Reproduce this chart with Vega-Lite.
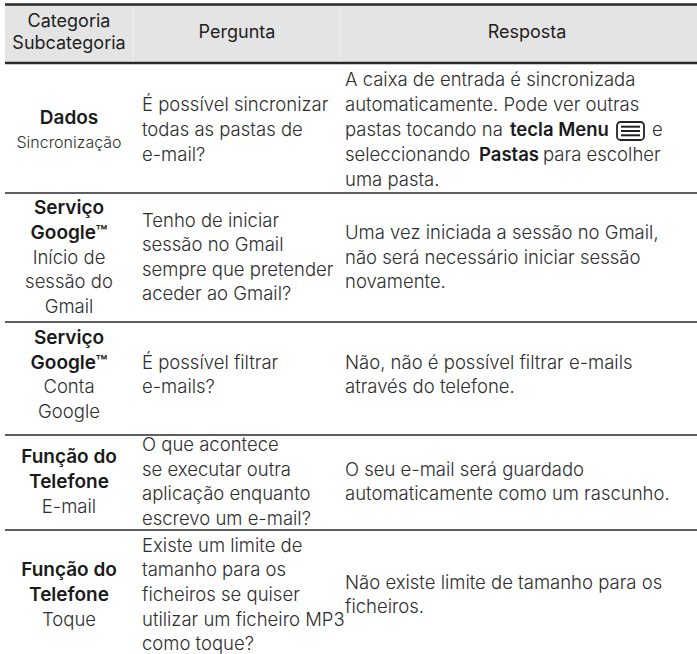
{
  "$schema": "https://vega.github.io/schema/vega-lite/v6.json",
  "width": 697,
  "height": 654,
  "padding": 0,
  "autosize": "none",
  "background": "white",
  "config": {"view": {"stroke": null}},
  "datasets": {
    "band": [{"x": 5, "x2": 697, "y": 4, "y2": 63}],
    "borders": [
      {"x": 5, "x2": 697, "y": 4.5},
      {"x": 5, "x2": 697, "y": 63}
    ],
    "dividers": [
      {"x": 133, "y": 5, "y2": 62},
      {"x": 340, "y": 5, "y2": 62}
    ],
    "separators": [
      {"x": 5, "x2": 697, "y": 193},
      {"x": 5, "x2": 697, "y": 322},
      {"x": 5, "x2": 697, "y": 435},
      {"x": 5, "x2": 697, "y": 530}
    ],
    "iconbox": [{"x": 617, "x2": 644, "y": 122, "y2": 140}],
    "iconlines": [
      {"x": 621, "x2": 640, "y": 126.7},
      {"x": 621, "x2": 640, "y": 131},
      {"x": 621, "x2": 640, "y": 135.3}
    ],
    "cells": [
      {"role": "header", "x": 69, "y": 22, "text": "Categoria"},
      {"role": "header", "x": 69, "y": 44, "text": "Subcategoria"},
      {"role": "header", "x": 237, "y": 33, "text": "Pergunta"},
      {"role": "header", "x": 527, "y": 33, "text": "Resposta"},

      {"role": "category", "x": 69, "y": 117.5, "text": "Dados"},
      {"role": "subnarrow", "x": 69, "y": 142.5, "text": "Sincronização"},
      {"role": "body", "x": 142, "y": 105, "text": "É possível sincronizar"},
      {"role": "body", "x": 142, "y": 130, "text": "todas as pastas de"},
      {"role": "body", "x": 142, "y": 155, "text": "e-mail?"},
      {"role": "body", "x": 345, "y": 80, "text": "A caixa de entrada é sincronizada"},
      {"role": "body", "x": 345, "y": 105, "text": "automaticamente. Pode ver outras"},
      {"role": "body", "x": 345, "y": 130, "text": "pastas tocando na"},
      {"role": "strong", "x": 510, "y": 130, "text": "tecla Menu"},
      {"role": "body", "x": 652, "y": 130, "text": "e"},
      {"role": "body", "x": 345, "y": 155, "text": "seleccionando"},
      {"role": "strong", "x": 479, "y": 155, "text": "Pastas"},
      {"role": "body", "x": 543, "y": 155, "text": "para escolher"},
      {"role": "body", "x": 345, "y": 180, "text": "uma pasta."},

      {"role": "category", "x": 69, "y": 208.3, "text": "Serviço"},
      {"role": "category", "x": 69, "y": 232.9, "text": "Google™"},
      {"role": "sub", "x": 69, "y": 257.5, "text": "Início de"},
      {"role": "sub", "x": 69, "y": 282.1, "text": "sessão do"},
      {"role": "sub", "x": 69, "y": 306.7, "text": "Gmail"},
      {"role": "body", "x": 142, "y": 220.6, "text": "Tenho de iniciar"},
      {"role": "body", "x": 142, "y": 245.2, "text": "sessão no Gmail"},
      {"role": "body", "x": 142, "y": 269.8, "text": "sempre que pretender"},
      {"role": "body", "x": 142, "y": 294.4, "text": "aceder ao Gmail?"},
      {"role": "body", "x": 345, "y": 232.9, "text": "Uma vez iniciada a sessão no Gmail,"},
      {"role": "body", "x": 345, "y": 257.5, "text": "não será necessário iniciar sessão"},
      {"role": "body", "x": 345, "y": 282.1, "text": "novamente."},

      {"role": "category", "x": 69, "y": 338.1, "text": "Serviço"},
      {"role": "category", "x": 69, "y": 362.7, "text": "Google™"},
      {"role": "sub", "x": 69, "y": 387.3, "text": "Conta"},
      {"role": "sub", "x": 69, "y": 411.9, "text": "Google"},
      {"role": "body", "x": 142, "y": 362.7, "text": "É possível filtrar"},
      {"role": "body", "x": 142, "y": 387.3, "text": "e-mails?"},
      {"role": "body", "x": 345, "y": 362.7, "text": "Não, não é possível filtrar e-mails"},
      {"role": "body", "x": 345, "y": 387.3, "text": "através do telefone."},

      {"role": "category", "x": 69, "y": 457.4, "text": "Função do"},
      {"role": "category", "x": 69, "y": 482, "text": "Telefone"},
      {"role": "sub", "x": 69, "y": 506.6, "text": "E-mail"},
      {"role": "body", "x": 142, "y": 445.1, "text": "O que acontece"},
      {"role": "body", "x": 142, "y": 469.7, "text": "se executar outra"},
      {"role": "body", "x": 142, "y": 494.3, "text": "aplicação enquanto"},
      {"role": "body", "x": 142, "y": 518.9, "text": "escrevo um e-mail?"},
      {"role": "body", "x": 345, "y": 469.7, "text": "O seu e-mail será guardado"},
      {"role": "body", "x": 345, "y": 494.3, "text": "automaticamente como um rascunho."},

      {"role": "category", "x": 69, "y": 570.4, "text": "Função do"},
      {"role": "category", "x": 69, "y": 595, "text": "Telefone"},
      {"role": "sub", "x": 69, "y": 619.6, "text": "Toque"},
      {"role": "body", "x": 142, "y": 545.8, "text": "Existe um limite de"},
      {"role": "body", "x": 142, "y": 570.4, "text": "tamanho para os"},
      {"role": "body", "x": 142, "y": 595, "text": "ficheiros se quiser"},
      {"role": "body", "x": 142, "y": 619.6, "text": "utilizar um ficheiro MP3"},
      {"role": "body", "x": 142, "y": 644.2, "text": "como toque?"},
      {"role": "body", "x": 345, "y": 582.7, "text": "Não existe limite de tamanho para os"},
      {"role": "body", "x": 345, "y": 607.3, "text": "ficheiros."}
    ]
  },
  "encoding": {
    "x": {"field": "x", "type": "quantitative", "scale": {"domain": [0, 697], "nice": false, "zero": false}, "axis": null},
    "y": {"field": "y", "type": "quantitative", "scale": {"domain": [0, 654], "nice": false, "zero": false, "reverse": true}, "axis": null}
  },
  "layer": [
    {
      "data": {"name": "band"},
      "mark": {"type": "rect", "fill": "#e4e4e4"},
      "encoding": {"x2": {"field": "x2"}, "y2": {"field": "y2"}}
    },
    {
      "data": {"name": "dividers"},
      "mark": {"type": "rule", "stroke": "#efefef", "strokeWidth": 1},
      "encoding": {"y2": {"field": "y2"}}
    },
    {
      "data": {"name": "borders"},
      "mark": {"type": "rule", "stroke": "#2a2a2a", "strokeWidth": 2.5},
      "encoding": {"x2": {"field": "x2"}}
    },
    {
      "data": {"name": "separators"},
      "mark": {"type": "rule", "stroke": "#2a2a2a", "strokeWidth": 1.3},
      "encoding": {"x2": {"field": "x2"}}
    },
    {
      "data": {"name": "iconbox"},
      "mark": {"type": "rect", "fill": "white", "stroke": "#222222", "strokeWidth": 1.8, "cornerRadius": 3.5},
      "encoding": {"x2": {"field": "x2"}, "y2": {"field": "y2"}}
    },
    {
      "data": {"name": "iconlines"},
      "mark": {"type": "rule", "stroke": "#222222", "strokeWidth": 2},
      "encoding": {"x2": {"field": "x2"}}
    },
    {
      "data": {"name": "cells"},
      "transform": [{"filter": "datum.role === 'header'"}],
      "mark": {"type": "text", "align": "center", "baseline": "middle", "font": "Inter", "fontSize": 18, "fontWeight": 400, "color": "#1e1e1e"},
      "encoding": {"text": {"field": "text"}}
    },
    {
      "data": {"name": "cells"},
      "transform": [{"filter": "datum.role === 'category'"}],
      "mark": {"type": "text", "align": "center", "baseline": "middle", "font": "Inter", "fontSize": 19, "fontWeight": 600, "color": "#1a1a1a"},
      "encoding": {"text": {"field": "text"}}
    },
    {
      "data": {"name": "cells"},
      "transform": [{"filter": "datum.role === 'sub'"}],
      "mark": {"type": "text", "align": "center", "baseline": "middle", "font": "Inter", "fontSize": 18.5, "fontWeight": 300, "color": "#2e2e2e"},
      "encoding": {"text": {"field": "text"}}
    },
    {
      "data": {"name": "cells"},
      "transform": [{"filter": "datum.role === 'subnarrow'"}],
      "mark": {"type": "text", "align": "center", "baseline": "middle", "font": "Inter", "fontSize": 16, "fontWeight": 300, "color": "#2e2e2e"},
      "encoding": {"text": {"field": "text"}}
    },
    {
      "data": {"name": "cells"},
      "transform": [{"filter": "datum.role === 'body'"}],
      "mark": {"type": "text", "align": "left", "baseline": "middle", "font": "Inter", "fontSize": 18.5, "fontWeight": 300, "color": "#2e2e2e"},
      "encoding": {"text": {"field": "text"}}
    },
    {
      "data": {"name": "cells"},
      "transform": [{"filter": "datum.role === 'strong'"}],
      "mark": {"type": "text", "align": "left", "baseline": "middle", "font": "Inter", "fontSize": 18.5, "fontWeight": 600, "color": "#1a1a1a"},
      "encoding": {"text": {"field": "text"}}
    }
  ]
}
